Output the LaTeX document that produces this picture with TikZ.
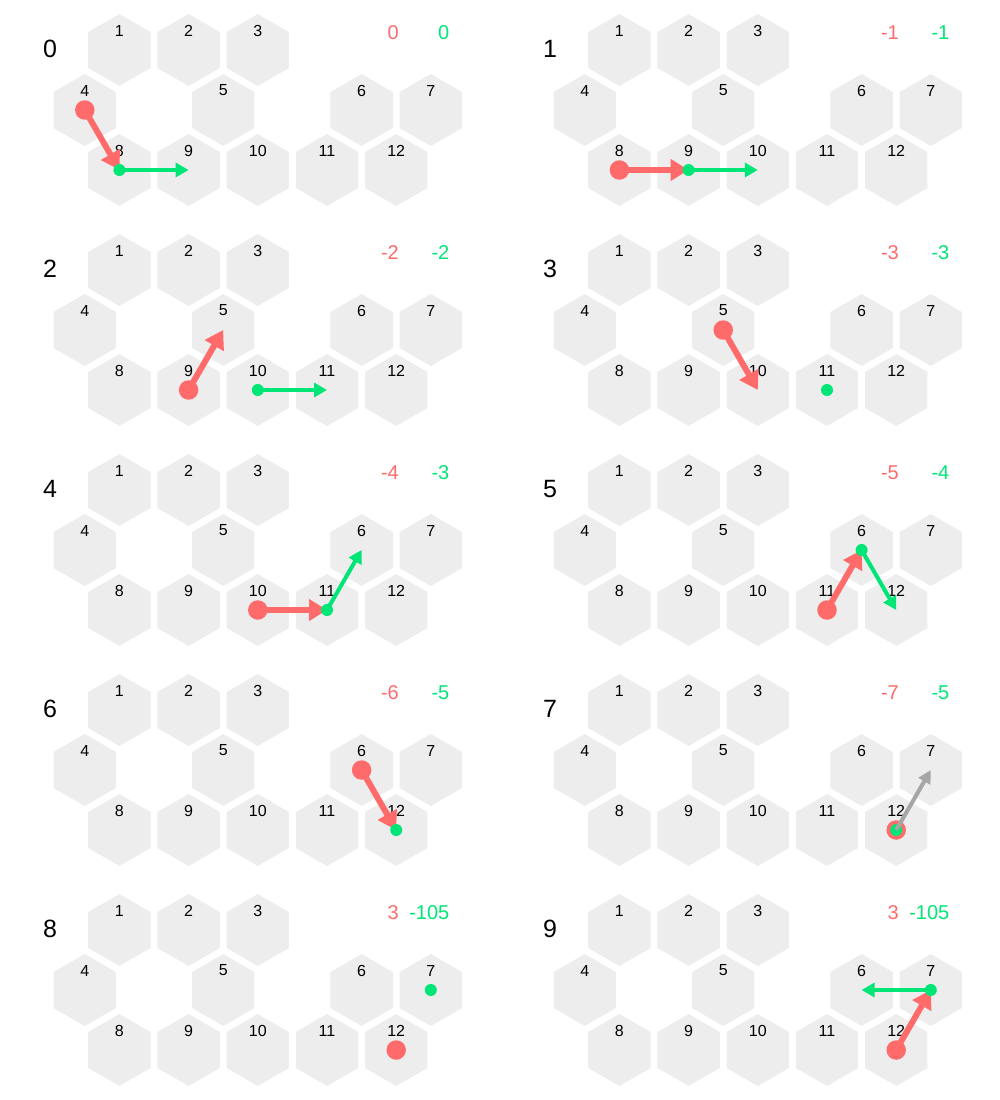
\documentclass[tikz,border=0pt]{standalone}
\usepackage{fontspec}
\setmainfont{Liberation Sans}
\usepackage{tikz}
\usetikzlibrary{arrows.meta}
\usetikzlibrary{shapes.geometric}
\definecolor{sango}	{rgb}	{	1.0000	,	0.4196	,	0.4196	}
\definecolor{midori}	{rgb}	{	0.0000	,	0.9020	,	0.4627	}
\definecolor{shironeri}	{rgb}	{	0.9294	,	0.9294	,	0.9294	}
\definecolor{nezumi}	{rgb}	{	0.6510	,	0.6510	,	0.6510	}

\begin{document}
\begin{tikzpicture}[x=1pt, y=-1pt,
  hexcell/.style={regular polygon, regular polygon sides=6, shape border rotate=30,
                  minimum size=72pt, inner sep=0pt, fill=shironeri},
  hexlabel/.style={font=\fontsize{16}{18}\selectfont, inner sep=0pt},
  panelnum/.style={font=\fontsize{25}{28}\selectfont, inner sep=0pt},
  score/.style={font=\fontsize{20}{22}\selectfont, inner sep=0pt, anchor=east},
  reddot/.style={circle, fill=sango, minimum size=19.5pt, inner sep=0pt},
  greendot/.style={circle, fill=midori, minimum size=12pt, inner sep=0pt},
  redarrow/.style={draw=sango, line width=6pt, -{Triangle[length=18pt, width=21pt]}},
  greenarrow/.style={draw=midori, line width=4pt, -{Triangle[length=13pt, width=14pt]}},
  grayarrow/.style={draw=nezumi, line width=4pt, -{Triangle[length=13pt, width=13pt]}}]
  \useasboundingbox (0,0) rectangle (1000,1100);

  \foreach \p/\rs/\gs in {0/0/0, 1/-1/-1, 2/-2/-2, 3/-3/-3, 4/-4/-3,
                          5/-5/-4, 6/-6/-5, 7/-7/-5, 8/3/-105, 9/3/-105}{
    \pgfmathsetmacro\ox{500*mod(\p,2)}
    \pgfmathsetmacro\oy{220*floor(\p/2)}
    \node[panelnum] (n\p) at (\ox+50, \oy+49) {\p};
    \node[score, text=sango] (r\p) at (\ox+399, \oy+32.5) {\rs};
    \node[score, text=midori] (g\p) at (\ox+449.5, \oy+32.5) {\gs};
    \foreach \n/\x/\y in {1/119.4/50, 2/188.6/50, 3/257.8/50,
                          4/84.8/110, 5/223.2/110, 6/361.6/110, 7/430.8/110,
                          8/119.4/170, 9/188.6/170, 10/257.8/170, 11/327/170, 12/396.2/170}{
      \node[hexcell] (h\p-\n) at (\ox+\x, \oy+\y) {};
      \node[hexlabel] (l\p-\n) at ([yshift=19.5pt]h\p-\n.center) {\n};
    }
  }

  \foreach \p/\a in {0/4, 1/8, 2/9, 3/5, 4/10, 5/11, 6/6, 7/12, 8/12, 9/12}
    \node[reddot] (rd\p) at (h\p-\a) {};
  \foreach \p/\b in {0/8, 1/9, 2/5, 3/10, 4/11, 5/6, 6/12, 9/7}
    \draw[redarrow] (rd\p.center) -- (h\p-\b.center);
  \foreach \p/\a in {0/8, 1/9, 2/10, 3/11, 4/11, 5/6, 6/12, 7/12, 8/7, 9/7}
    \node[greendot] (gd\p) at (h\p-\a) {};
  \foreach \p/\b in {0/9, 1/10, 2/11, 4/6, 5/12, 9/6}
    \draw[greenarrow] (gd\p.center) -- (h\p-\b.center);
  \draw[grayarrow] (gd7.center) -- (h7-7.center);
\end{tikzpicture}
\end{document}
